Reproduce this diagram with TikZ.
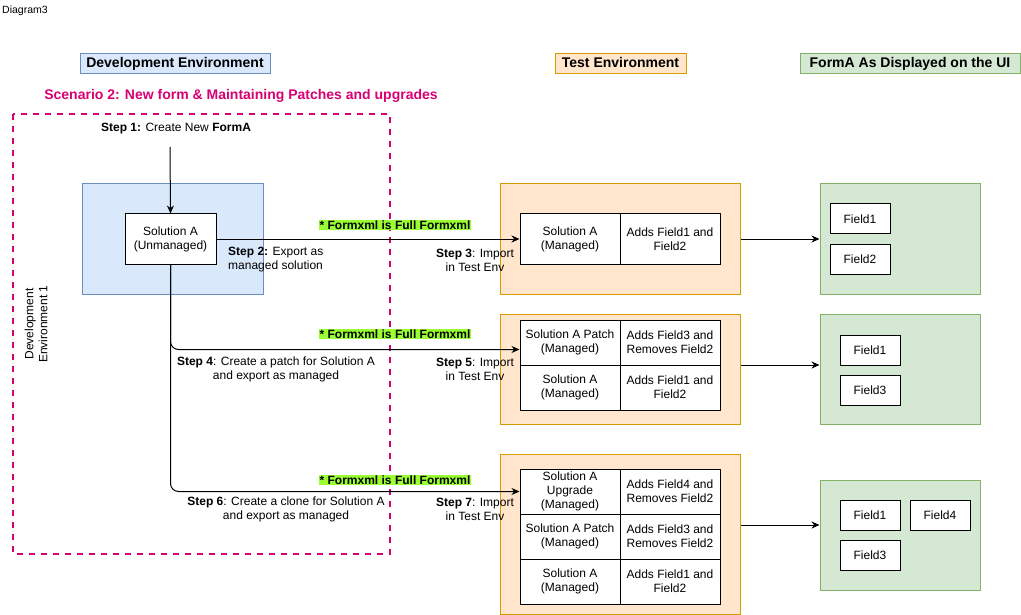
\documentclass[tikz,border=0pt]{standalone}
\usepackage{fontspec}
\setmainfont{Liberation Sans}
\usetikzlibrary{arrows.meta}

\definecolor{devfill}{HTML}{DAE8FC}
\definecolor{devline}{HTML}{6C8EBF}
\definecolor{testfill}{HTML}{FFE6CC}
\definecolor{testline}{HTML}{D79B00}
\definecolor{uifill}{HTML}{D5E8D4}
\definecolor{uiline}{HTML}{82B366}
\definecolor{scenpink}{HTML}{D80073}
\definecolor{notegreen}{HTML}{99FF33}

\tikzset{
  hdr/.style={draw, line width=1pt, minimum height=20pt, inner sep=0pt,
    text height=10pt, text depth=3pt,
    font=\fontsize{14}{16}\selectfont\bfseries},
  area/.style={draw, line width=1pt, inner sep=0pt},
  cell/.style={draw, line width=1pt, fill=white, minimum width=100pt,
    minimum height=45pt, inner sep=0pt, align=center},
  fieldbox/.style={draw, line width=1pt, fill=white, minimum width=60pt,
    minimum height=30pt, inner sep=0pt},
  note/.style={fill=notegreen, inner sep=1pt, font=\fontsize{12}{14}\selectfont\bfseries},
  steptxt/.style={inner sep=0pt, align=center},
  arr/.style={line width=1pt, -{Stealth[length=8pt,width=7pt]}},
}

\begin{document}
\begin{tikzpicture}[x=1pt, y=-1pt, font=\fontsize{12}{14}\selectfont]
  \useasboundingbox (0,0) rectangle (1021,615);

  \node[anchor=west, inner sep=0pt, font=\fontsize{10.5}{12}\selectfont] (title) at (2,11) {Diagram3};

  % headers
  \node[hdr, fill=devfill, draw=devline, minimum width=190pt] (devhdr) at (175,64) {Development Environment};
  \node[hdr, fill=testfill, draw=testline, minimum width=131pt] (testhdr) at (620.5,64) {Test Environment};
  \node[hdr, fill=uifill, draw=uiline, minimum width=220pt] (uihdr) at (910,64) {FormA As Displayed on the UI};
  \node[text=scenpink, font=\fontsize{14}{16}\selectfont\bfseries] (scen) at (241,96)
    {Scenario 2: New form \& Maintaining Patches and upgrades};

  % development side
  \draw[scenpink, line width=2pt, dash pattern=on 6pt off 6pt] (13,114) rectangle (390,554);
  \node[rotate=90, steptxt] (devlbl) at (36,324) {Development\\Environment 1};
  \node (step1) at (176,129) {\textbf{Step 1:} Create New \textbf{FormA}};
  \coordinate (s1) at (170,147);
  \node[area, fill=devfill, draw=devline, minimum width=181pt, minimum height=110pt] (devbox) at (172.5,239) {};
  \node[cell, minimum width=91pt, minimum height=50pt] (solU) at (170.5,239) {Solution A\\(Unmanaged)};

  % test environment
  \node[area, fill=testfill, draw=testline, minimum width=240pt, minimum height=110pt] (test1) at (620,239) {};
  \node[area, fill=testfill, draw=testline, minimum width=240pt, minimum height=110pt] (test2) at (620,369) {};
  \node[area, fill=testfill, draw=testline, minimum width=240pt, minimum height=160pt] (test3) at (620,534) {};

  \node[cell, minimum height=50pt] (m1a) at (570,239) {Solution A\\(Managed)};
  \node[cell, minimum height=50pt] (m1b) at (670,239) {Adds Field1 and\\Field2};

  \node[cell] (p2a) at (570,342.5) {Solution A Patch\\(Managed)};
  \node[cell] (p2b) at (670,342.5) {Adds Field3 and\\Removes Field2};
  \node[cell] (m2a) at (570,387.5) {Solution A\\(Managed)};
  \node[cell] (m2b) at (670,387.5) {Adds Field1 and\\Field2};

  \node[cell] (u3a) at (570,491.5) {Solution A\\Upgrade\\(Managed)};
  \node[cell] (u3b) at (670,491.5) {Adds Field4 and\\Removes Field2};
  \node[cell] (p3a) at (570,536.5) {Solution A Patch\\(Managed)};
  \node[cell] (p3b) at (670,536.5) {Adds Field3 and\\Removes Field2};
  \node[cell] (m3a) at (570,581.5) {Solution A\\(Managed)};
  \node[cell] (m3b) at (670,581.5) {Adds Field1 and\\Field2};

  % form on the UI
  \node[area, fill=uifill, draw=uiline, minimum width=160pt, minimum height=110pt] (ui1) at (900,239) {};
  \node[area, fill=uifill, draw=uiline, minimum width=160pt, minimum height=110pt] (ui2) at (900,369) {};
  \node[area, fill=uifill, draw=uiline, minimum width=160pt, minimum height=110pt] (ui3) at (900,535) {};
  \foreach \nm/\x/\y/\t in {f11/860/219/Field1, f12/860/259/Field2,
      f21/870/350/Field1, f23/870/390/Field3,
      f31/870/515/Field1, f34/940/515/Field4, f33/870/555/Field3} {
    \node[fieldbox] (\nm) at (\x,\y) {\t};
  }

  % notes and step labels
  \foreach \i/\y in {1/225, 2/334, 3/480} {
    \node[note] (note\i) at (395,\y) {* Formxml is Full Formxml};
  }
  \node[steptxt, anchor=west, align=left] (step2) at (228,260) {\textbf{Step 2:} Export as\\managed solution};
  \node[steptxt] (step3) at (475,260) {\textbf{Step 3}: Import\\in Test Env};
  \node[steptxt] (step4) at (276,369) {\textbf{Step 4}: Create a patch for Solution A\\and export as managed};
  \node[steptxt] (step5) at (475,369) {\textbf{Step 5}: Import\\in Test Env};
  \node[steptxt] (step6) at (286,509) {\textbf{Step 6}: Create a clone for Solution A\\and export as managed};
  \node[steptxt] (step7) at (475,509) {\textbf{Step 7}: Import\\in Test Env};

  % connectors
  \draw[arr] (s1) -- (solU.north);
  \draw[arr] (solU.east) -- (m1a.west);
  \draw[arr, rounded corners=8pt] (solU.south) |- ([yshift=-7pt]p2a.west);
  \draw[arr, rounded corners=8pt] (solU.south) |- (u3a.west);
  \draw[arr] (test1.east) -- (ui1.west);
  \draw[arr] ([yshift=4pt]test2.east) -- ([yshift=4pt]ui2.west);
  \draw[arr] ([yshift=9pt]test3.east) -- ([yshift=10pt]ui3.west);
\end{tikzpicture}
\end{document}
